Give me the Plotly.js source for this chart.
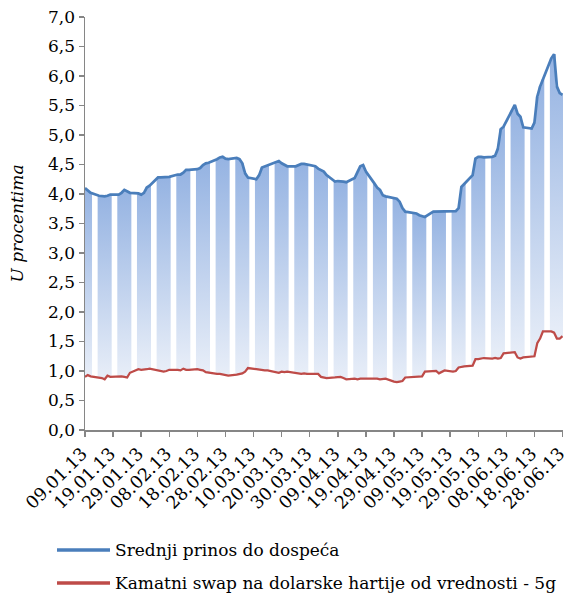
<!DOCTYPE html>
<html><head><meta charset="utf-8">
<script src="https://cdn.plot.ly/plotly-3.0.1.min.js"></script>
<style>html,body{margin:0;padding:0;background:#fff}</style>
</head><body><div id="chart" style="width:570px;height:594px"></div>
<script>
const dates = [
'2013-01-09','2013-01-10','2013-01-11','2013-01-14','2013-01-15','2013-01-16','2013-01-17','2013-01-18','2013-01-21','2013-01-22','2013-01-23','2013-01-24','2013-01-25','2013-01-28','2013-01-29','2013-01-30','2013-01-31',
'2013-02-01','2013-02-04','2013-02-05','2013-02-06','2013-02-07','2013-02-08','2013-02-11','2013-02-12','2013-02-13','2013-02-14','2013-02-15','2013-02-18','2013-02-19','2013-02-20','2013-02-21','2013-02-22','2013-02-25','2013-02-26','2013-02-27','2013-02-28',
'2013-03-01','2013-03-04','2013-03-05','2013-03-06','2013-03-07','2013-03-08','2013-03-11','2013-03-12','2013-03-13','2013-03-14','2013-03-15','2013-03-18','2013-03-19','2013-03-20','2013-03-21','2013-03-22','2013-03-25','2013-03-26','2013-03-27','2013-03-28','2013-03-29',
'2013-04-01','2013-04-02','2013-04-03','2013-04-04','2013-04-05','2013-04-08','2013-04-09','2013-04-10','2013-04-11','2013-04-12','2013-04-15','2013-04-16','2013-04-17','2013-04-18','2013-04-19','2013-04-22','2013-04-23','2013-04-24','2013-04-25','2013-04-26','2013-04-29','2013-04-30',
'2013-05-01','2013-05-02','2013-05-03','2013-05-06','2013-05-07','2013-05-08','2013-05-09','2013-05-10','2013-05-13','2013-05-14','2013-05-15','2013-05-16','2013-05-17','2013-05-20','2013-05-21','2013-05-22','2013-05-23','2013-05-24','2013-05-27','2013-05-28','2013-05-29','2013-05-30','2013-05-31',
'2013-06-03','2013-06-04','2013-06-05','2013-06-06','2013-06-07','2013-06-10','2013-06-11','2013-06-12','2013-06-13','2013-06-14','2013-06-17','2013-06-18','2013-06-19','2013-06-20','2013-06-21','2013-06-24','2013-06-25','2013-06-26','2013-06-27','2013-06-28'
];
const prinos = [
4.10,4.06,4.02,3.97,3.96,3.96,3.97,3.99,3.99,4.02,4.07,4.04,4.02,4.01,3.99,4.02,4.11,
4.14,4.28,4.28,4.28,4.28,4.29,4.33,4.33,4.36,4.41,4.41,4.42,4.44,4.49,4.52,4.53,4.59,4.62,4.63,4.60,
4.59,4.61,4.59,4.52,4.35,4.28,4.25,4.32,4.45,4.47,4.49,4.55,4.56,4.52,4.49,4.47,4.47,4.49,4.51,4.51,4.50,
4.47,4.43,4.41,4.38,4.32,4.21,4.22,4.22,4.21,4.20,4.27,4.37,4.47,4.49,4.38,4.18,4.11,4.07,3.98,3.96,3.93,3.92,
3.87,3.76,3.70,3.68,3.67,3.64,3.62,3.61,3.70,3.70,3.71,3.70,3.70,3.70,3.71,3.76,4.12,4.17,4.32,4.60,4.63,4.63,4.62,
4.63,4.65,4.77,5.10,5.14,5.42,5.51,5.36,5.31,5.13,5.11,5.21,5.65,5.82,5.94,6.30,6.37,5.82,5.71,5.68
];
const swap = [
0.90,0.93,0.91,0.89,0.88,0.86,0.92,0.90,0.91,0.91,0.90,0.89,0.97,1.03,1.02,1.02,1.03,
1.04,1.01,0.99,0.99,1.00,1.02,1.02,1.01,1.04,1.02,1.02,1.03,1.02,1.01,0.98,0.97,0.95,0.95,0.94,0.93,
0.92,0.94,0.95,0.96,0.99,1.05,1.03,1.02,1.02,1.01,1.01,0.98,0.97,0.99,0.98,0.99,0.97,0.96,0.95,0.96,0.95,
0.95,0.95,0.90,0.89,0.88,0.89,0.89,0.90,0.88,0.86,0.87,0.86,0.87,0.87,0.88,0.87,0.87,0.86,0.86,0.87,0.82,0.81,
0.82,0.83,0.89,0.90,0.90,0.91,0.91,0.99,1.00,1.00,0.96,0.98,1.01,0.99,1.00,1.06,1.07,1.08,1.09,1.20,1.20,1.21,1.22,
1.21,1.22,1.21,1.22,1.30,1.31,1.32,1.23,1.21,1.23,1.24,1.25,1.47,1.55,1.67,1.67,1.65,1.55,1.55,1.59
];
const xTickVals = ['2013-01-09','2013-01-19','2013-01-29','2013-02-08','2013-02-18','2013-02-28','2013-03-10','2013-03-20','2013-03-30','2013-04-09','2013-04-19','2013-04-29','2013-05-09','2013-05-19','2013-05-29','2013-06-08','2013-06-18','2013-06-28'];
const xTickText = ['09.01.13','19.01.13','29.01.13','08.02.13','18.02.13','28.02.13','10.03.13','20.03.13','30.03.13','09.04.13','19.04.13','29.04.13','09.05.13','19.05.13','29.05.13','08.06.13','18.06.13','28.06.13'];
const seriesNames = ['Srednji prinos do dospeća','Kamatni swap na dolarske hartije od vrednosti - 5g'];
const seriesColors = ['#4a7ebb','#be4b48'];
const yTitle = 'U procentima';

const DAY = 86400000;
function fmt(ms){ return new Date(ms).toISOString().slice(0,19).replace('T',' '); }

const groups = []; let cur = [];
dates.forEach((d,i) => {
  const t = Date.parse(d + 'T00:00:00Z');
  if (cur.length && t - cur[cur.length-1].t > DAY) { groups.push(cur); cur = []; }
  cur.push({t, i});
});
if (cur.length) groups.push(cur);

const traces = [];
groups.forEach(g => {
  const xs = [], ys = [];
  g.forEach(p => { xs.push(fmt(p.t - DAY/2), fmt(p.t + DAY/2)); ys.push(prinos[p.i], prinos[p.i]); });
  for (let k = g.length-1; k >= 0; k--) { const p = g[k]; xs.push(fmt(p.t + DAY/2), fmt(p.t - DAY/2)); ys.push(swap[p.i], swap[p.i]); }
  const lo = Math.min(...g.map(p => swap[p.i])), hi = Math.max(...g.map(p => prinos[p.i]));
  traces.push({type:'scatter', mode:'none', x:xs, y:ys, fill:'toself', fillcolor:'#b7c9ea',
    fillgradient:{type:'vertical', colorscale:[[0,'#e8eef8'],[1,'#95b3e2']], start:lo, stop:hi},
    hoverinfo:'skip', showlegend:false});
});

traces.push({type:'scatter', mode:'lines', x:dates, y:prinos, name:seriesNames[0], showlegend:false,
  line:{color:seriesColors[0], width:2.75}});
traces.push({type:'scatter', mode:'lines', x:dates, y:swap, name:seriesNames[1], showlegend:false,
  line:{color:seriesColors[1], width:2.25}});

const FONT = 'DejaVu Serif';
const PLOT_W = 570 - 85 - 7, PLOT_H = 594 - 17 - 164;
const px2x = px => (px - 85) / PLOT_W;
const px2y = py => (430 - py) / PLOT_H;
const legendRows = [550, 583];

const shapes = [], annotations = [];
seriesNames.forEach((n, k) => {
  shapes.push({type:'line', xref:'paper', yref:'paper', x0:px2x(57), x1:px2x(110), y0:px2y(legendRows[k]), y1:px2y(legendRows[k]),
    line:{color:seriesColors[k], width:3.5}});
  annotations.push({xref:'paper', yref:'paper', x:px2x(113), y:px2y(legendRows[k]), xanchor:'left', yanchor:'middle',
    text:n, showarrow:false, font:{family:FONT, size:17, color:'#000'}});
});

const layout = {
  width:570, height:594,
  margin:{l:85, r:7, t:17, b:164},
  paper_bgcolor:'#fff', plot_bgcolor:'#fff',
  font:{family:FONT, size:17, color:'#000'},
  separators:', ',
  showlegend:false,
  shapes, annotations,
  xaxis:{type:'date', range:['2013-01-09','2013-06-28 04:00'], tickmode:'array', tickvals:xTickVals, ticktext:xTickText,
    tickangle:-45, ticks:'outside', ticklen:5, tickcolor:'#868686', tickwidth:1.5, tickfont:{family:FONT, size:17.5},
    ticklabeloverflow:'allow', ticklabelshift:-3,
    showline:true, linecolor:'#868686', linewidth:1.5, showgrid:false, zeroline:false, fixedrange:true, automargin:false},
  yaxis:{range:[0,7], dtick:0.5, tick0:0, tickformat:'.1f', ticks:'outside', ticklen:5, tickcolor:'#868686', tickwidth:1.5,
    tickfont:{family:FONT, size:17},
    showline:true, linecolor:'#868686', linewidth:1.5, showgrid:false, zeroline:false, automargin:false,
    title:{text:'<i>'+yTitle+'</i>', standoff:20, font:{family:FONT, size:17}}, fixedrange:true}
};
Plotly.newPlot('chart', traces, layout, {displayModeBar:false, staticPlot:true});
</script></body></html>
